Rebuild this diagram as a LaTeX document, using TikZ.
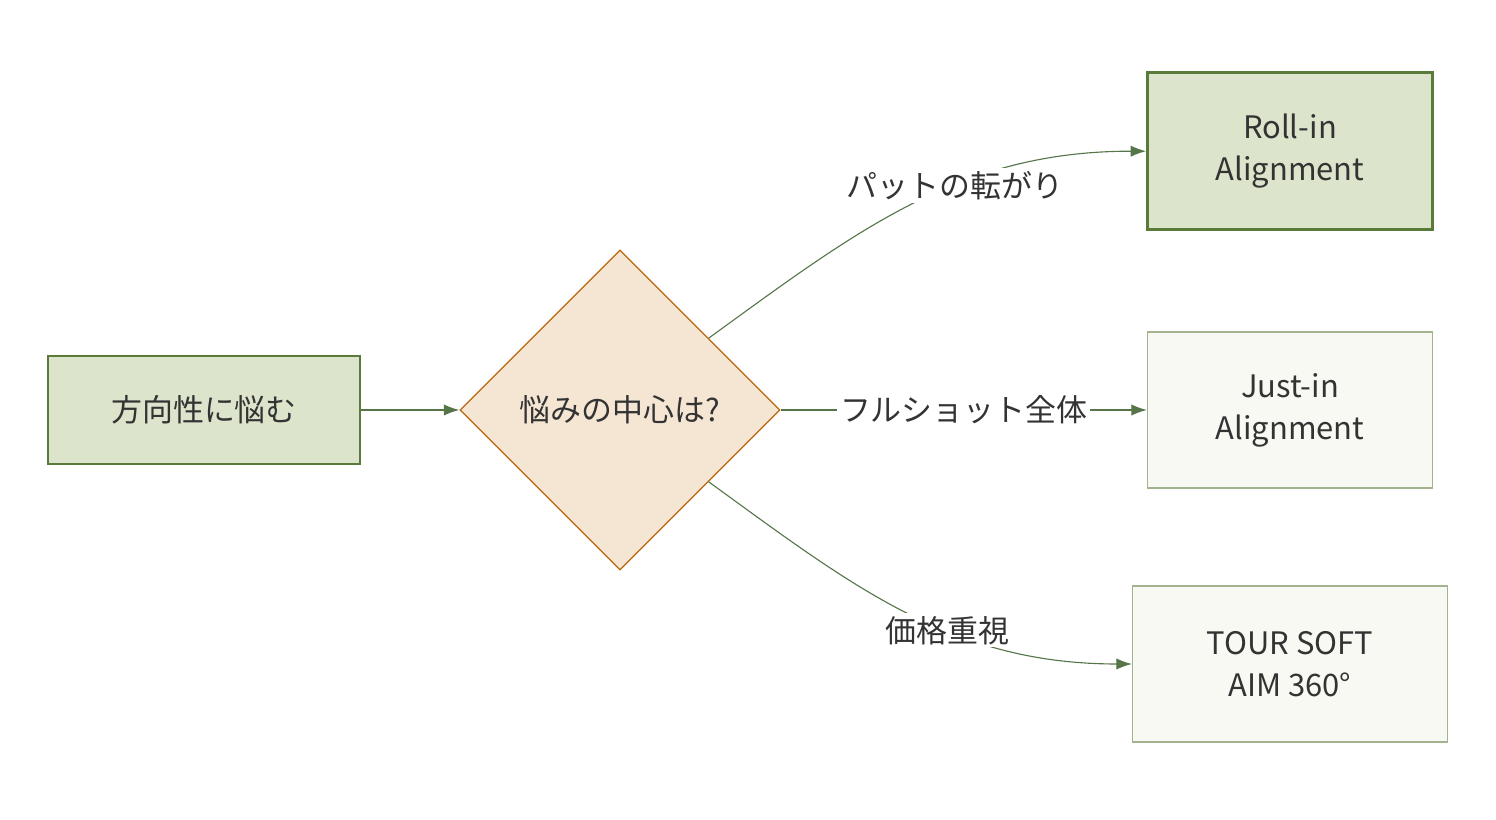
\documentclass[tikz,border=0pt]{standalone}
\usepackage{fontspec}
\setmainfont{Noto Sans CJK JP}
\usetikzlibrary{arrows.meta,positioning,shapes.geometric}
\definecolor{leafFill}{HTML}{DCE5CB}
\definecolor{leafLine}{HTML}{5A7A3A}
\definecolor{paleFill}{HTML}{F8F9F2}
\definecolor{paleLine}{HTML}{A3B38F}
\definecolor{sandFill}{HTML}{F5E6D4}
\definecolor{sandLine}{HTML}{B8670F}
\definecolor{inkText}{HTML}{333333}
\definecolor{wireCol}{HTML}{56764A}
\tikzset{
  box/.style={draw, line width=0.9pt, text=inkText, align=center, inner sep=0pt,
    font=\fontsize{22}{30}\selectfont},
  lbl/.style={fill=white, text=inkText, inner sep=2pt, font=\fontsize{22}{30}\selectfont},
  wire/.style={draw=wireCol, line width=0.8pt, -{Latex[length=11pt,width=8pt]}}
}
\begin{document}
\begin{tikzpicture}
    \useasboundingbox (0,0) rectangle (37.4,20.5);

    % start and decision
    \node[box, fill=leafFill, draw=leafLine, minimum width=7.8cm, minimum height=2.7cm] (worry) at (5.1,10.25) {方向性に悩む};
    \node[box, diamond, aspect=1, fill=sandFill, draw=sandLine, minimum width=8cm, minimum height=8cm] (focus) at (15.5,10.25) {悩みの中心は?};

    % the three putters
    \node[box, fill=leafFill, draw=leafLine, line width=2pt, minimum width=7.125cm, minimum height=3.925cm] (rollin) at (32.25,16.72) {Roll-in\\Alignment};
    \node[box, fill=paleFill, draw=paleLine, minimum width=7.125cm, minimum height=3.9cm] (justin) at (32.25,10.25) {Just-in\\Alignment};
    \node[box, fill=paleFill, draw=paleLine, minimum width=7.875cm, minimum height=3.9cm] (tour) at (32.25,3.9) {TOUR SOFT\\AIM 360°};

    % connectors
    \draw[wire] (worry) -- (focus);
    \draw[wire] (focus.39) to[out=36,in=180] node[lbl, pos=0.6] {パットの転がり} (rollin.west);
    \draw[wire] (focus.east) -- node[lbl] {フルショット全体} (justin.west);
    \draw[wire] (focus.-39) to[out=-36,in=180] node[lbl, pos=0.6] {価格重視} (tour.west);
\end{tikzpicture}
\end{document}
